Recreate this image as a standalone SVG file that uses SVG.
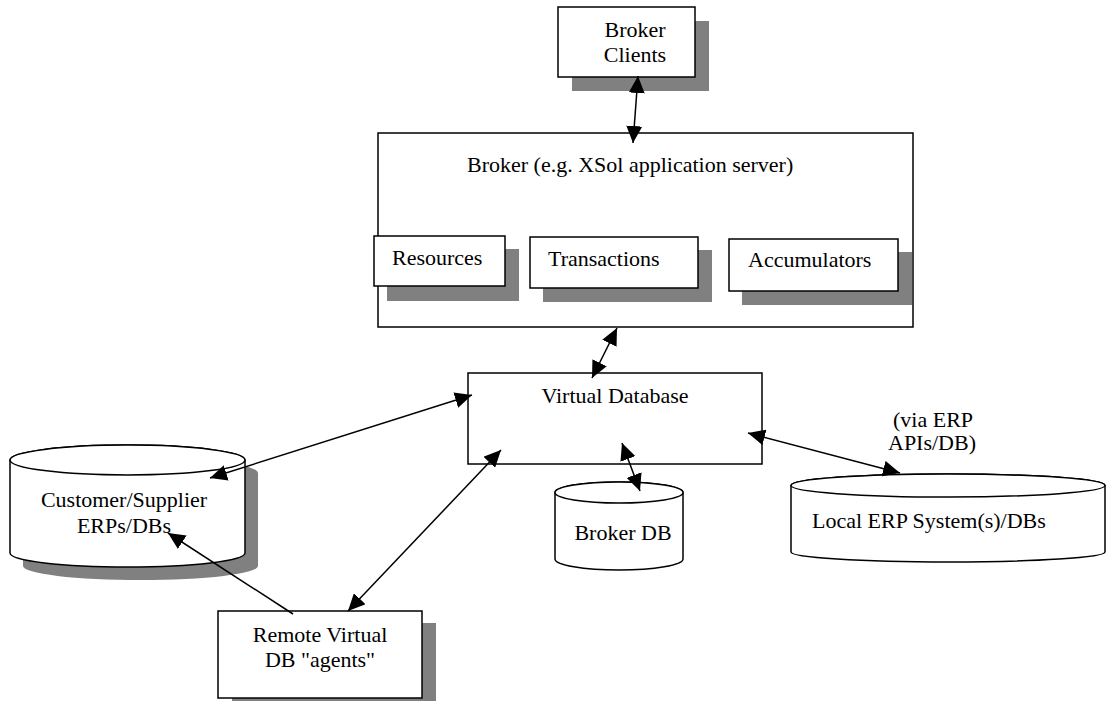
<svg xmlns="http://www.w3.org/2000/svg" width="1107" height="701" viewBox="0 0 1107 701">
<style>
  .box { fill: #ffffff; stroke: #000000; stroke-width: 1.5; }
  .shadow { fill: #808080; stroke: none; }
  .lbl { font-family: "Liberation Serif", "Times New Roman", serif; font-size: 22px; fill: #000000; }
  .mid { text-anchor: middle; }
  .conn { stroke: #000000; stroke-width: 1.5; fill: none; }
</style>
<defs>
  <marker id="ah" viewBox="0 0 17 16" refX="17" refY="8" markerWidth="17" markerHeight="16" markerUnits="userSpaceOnUse" orient="auto-start-reverse">
    <path d="M0,0 L17,8 L0,16 z" fill="#000000"/>
  </marker>
</defs>
<rect width="1107" height="701" fill="#ffffff"/>

<g id="broker-clients">
  <rect class="shadow" x="572" y="21" width="137" height="70"/>
  <rect class="box" x="558" y="7" width="137" height="70"/>
  <text class="lbl mid" x="635" y="37">Broker</text>
  <text class="lbl mid" x="635" y="62">Clients</text>
</g>

<g id="broker">
  <rect class="box" x="378" y="133" width="535" height="194"/>
  <text class="lbl" x="467" y="172">Broker (e.g. XSol application server)</text>
</g>

<g id="resources">
  <rect class="shadow" x="387" y="249" width="132" height="52"/>
  <rect class="box" x="374" y="236" width="131" height="50"/>
  <text class="lbl" x="392" y="265">Resources</text>
</g>

<g id="transactions">
  <rect class="shadow" x="543" y="250" width="169" height="52"/>
  <rect class="box" x="530" y="237" width="168" height="51"/>
  <text class="lbl" x="548" y="266">Transactions</text>
</g>

<g id="accumulators">
  <rect class="shadow" x="742" y="252" width="170" height="53"/>
  <rect class="box" x="729" y="239" width="169" height="52"/>
  <text class="lbl" x="748" y="267">Accumulators</text>
</g>

<g id="virtual-database">
  <rect class="box" x="468" y="373" width="294" height="91"/>
  <text class="lbl mid" x="615" y="403">Virtual Database</text>
</g>

<g id="customer-supplier">
  <path class="shadow" transform="translate(13,13)" d="M10,460 L10,553 A117.5,14 0 0 0 245,553 L245,460 A117.5,15 0 0 0 10,460 Z"/>
  <path class="box" d="M10,460 L10,553 A117.5,14 0 0 0 245,553 L245,460 A117.5,15 0 0 0 10,460 Z"/>
  <ellipse class="box" cx="127.5" cy="460" rx="117.5" ry="15"/>
  <text class="lbl mid" x="124" y="507">Customer/Supplier</text>
  <text class="lbl mid" x="124" y="533">ERPs/DBs</text>
</g>

<g id="broker-db">
  <path class="box" d="M555,492.5 L555,559 A64,11 0 0 0 683,559 L683,492.5 A64,10.5 0 0 0 555,492.5 Z"/>
  <ellipse class="box" cx="619" cy="492.5" rx="64" ry="10.5"/>
  <text class="lbl mid" x="623" y="540">Broker DB</text>
</g>

<g id="local-erp">
  <path class="box" d="M791,485.5 L791,552 A157,10 0 0 0 1105,552 L1105,485.5 A157,11.5 0 0 0 791,485.5 Z"/>
  <ellipse class="box" cx="948" cy="485.5" rx="157" ry="11.5"/>
  <text class="lbl" x="812" y="528">Local ERP System(s)/DBs</text>
</g>

<g id="remote-agents">
  <rect class="shadow" x="232" y="623" width="204" height="87"/>
  <rect class="box" x="218" y="611" width="204" height="87"/>
  <text class="lbl mid" x="320" y="642">Remote Virtual</text>
  <text class="lbl mid" x="320" y="667">DB "agents"</text>
</g>

<g id="via-erp-note">
  <text class="lbl" x="893" y="427">(via ERP</text>
  <text class="lbl" x="888" y="450">APIs/DB)</text>
</g>

<g id="connectors">
  <line class="conn" x1="638" y1="76" x2="633" y2="143" marker-start="url(#ah)" marker-end="url(#ah)"/>
  <line class="conn" x1="617" y1="328" x2="592" y2="378" marker-start="url(#ah)" marker-end="url(#ah)"/>
  <line class="conn" x1="210" y1="478" x2="472" y2="395" marker-start="url(#ah)" marker-end="url(#ah)"/>
  <line class="conn" x1="501" y1="450" x2="348" y2="611" marker-start="url(#ah)" marker-end="url(#ah)"/>
  <line class="conn" x1="622" y1="443" x2="640" y2="491" marker-start="url(#ah)" marker-end="url(#ah)"/>
  <line class="conn" x1="748" y1="433" x2="900" y2="473" marker-start="url(#ah)" marker-end="url(#ah)"/>
  <line class="conn" x1="293" y1="614" x2="168" y2="533" marker-end="url(#ah)"/>
</g>
</svg>
